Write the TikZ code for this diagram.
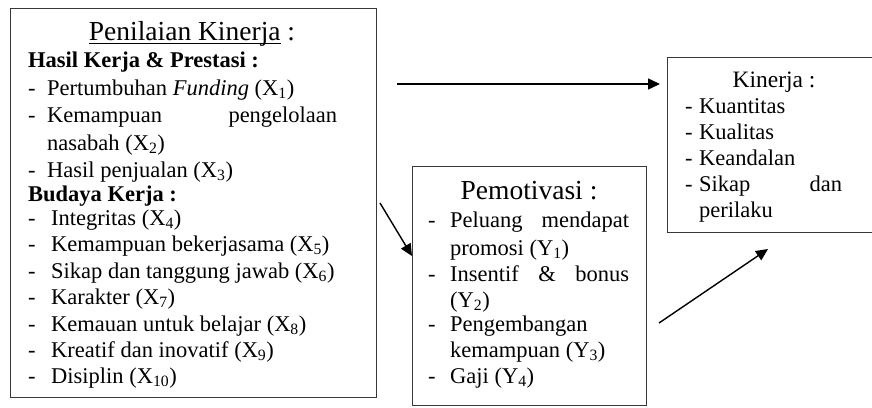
\documentclass[tikz,border=0pt]{standalone}
\usepackage{fontspec}
\setmainfont{Liberation Serif}
\usetikzlibrary{arrows.meta}
\newcommand\bodysz{\fontsize{22.5}{26}\selectfont}
\newcommand\titlesz{\fontsize{27.5}{30}\selectfont}
\newcommand\kintitlesz{\fontsize{23.5}{27}\selectfont}
\newsavebox\myulbox
\newcommand\myul[1]{\sbox\myulbox{#1}\rlap{\rule[-3.5pt]{\wd\myulbox}{0.9pt}}\usebox\myulbox}
\tikzset{
  box/.style={draw=black!78, line width=1.2pt, anchor=north west, inner sep=0, fill=none},
  txt/.style={anchor=base west, inner sep=0, font=\bodysz},
  ttl/.style={anchor=base, inner sep=0, font=\titlesz},
  arr/.style={-{Triangle[length=12pt,width=11pt]}, line width=1.4pt}
}
\begin{document}
\begin{tikzpicture}[x=1pt,y=-1pt]
\useasboundingbox (0,0) rectangle (872,407);
% boxes
\node[box, minimum width=366pt, minimum height=389pt] (pk) at (10,8) {};
\node[box, minimum width=234pt, minimum height=239pt] (pm) at (412,166) {};
\node[box, minimum width=215pt, minimum height=175pt] (kn) at (667,57) {};
% left box
\node[ttl] (t1) at (192,40) {\myul{Penilaian Kinerja} :};
\node[txt] (h1) at (28,67) {\textbf{Hasil Kerja \& Prestasi :}};
\node[txt] (d1) at (28,95) {-};
\node[txt] (l1) at (47,95) {Pertumbuhan \textit{Funding} (X\textsubscript{1})};
\node[txt] (d2) at (28,122) {-};
\node[txt] (l2) at (47,122) {\makebox[290pt][s]{Kemampuan pengelolaan}};
\node[txt] (l2b) at (47,150) {nasabah (X\textsubscript{2})};
\node[txt] (d3) at (28,177) {-};
\node[txt] (l3) at (47,177) {Hasil penjualan (X\textsubscript{3})};
\node[txt] (h2) at (28,201) {\textbf{Budaya Kerja :}};
\foreach \y/\t [count=\i] in {225/Integritas (X\textsubscript{4}),
  251/Kemampuan bekerjasama (X\textsubscript{5}),
  278/Sikap dan tanggung jawab (X\textsubscript{6}),
  304/Karakter (X\textsubscript{7}),
  331/Kemauan untuk belajar (X\textsubscript{8}),
  357/Kreatif dan inovatif (X\textsubscript{9}),
  383/Disiplin (X\textsubscript{10})}{
  \node[txt] (bd\i) at (28,\y) {-};
  \node[txt] (b\i) at (51,\y) {\t};
}
% middle box
\node[ttl] (t2) at (529,199) {Pemotivasi :};
\node[txt] (m1d) at (428,227) {-};
\node[txt] (m1) at (450,227) {\makebox[179pt][s]{Peluang mendapat}};
\node[txt] (m1b) at (450,255) {promosi (Y\textsubscript{1})};
\node[txt] (m2d) at (428,281) {-};
\node[txt] (m2) at (450,281) {\makebox[179pt][s]{Insentif \& bonus}};
\node[txt] (m2b) at (450,307) {(Y\textsubscript{2})};
\node[txt] (m3d) at (428,331) {-};
\node[txt] (m3) at (450,331) {Pengembangan};
\node[txt] (m3b) at (450,357) {kemampuan (Y\textsubscript{3})};
\node[txt] (m4d) at (428,383) {-};
\node[txt] (m4) at (450,383) {Gaji (Y\textsubscript{4})};
% right box
\node[ttl, font=\kintitlesz] (t3) at (774,87) {Kinerja :};
\node[txt] (k1d) at (685,113) {-};
\node[txt] (k1) at (699,113) {Kuantitas};
\node[txt] (k2d) at (685,139) {-};
\node[txt] (k2) at (699,139) {Kualitas};
\node[txt] (k3d) at (685,165) {-};
\node[txt] (k3) at (699,165) {Keandalan};
\node[txt] (k4d) at (685,191) {-};
\node[txt] (k4) at (699,191) {\makebox[143pt][s]{Sikap dan}};
\node[txt] (k4b) at (699,217) {perilaku};
% arrows
\coordinate (a1s) at (397,84);
\coordinate (a1e) at (660,84);
\coordinate (a2s) at (380,203);
\coordinate (a2e) at (412,256);
\coordinate (a3s) at (659,323);
\coordinate (a3e) at (768,249);
\draw[arr] (a1s) -- (a1e);
\draw[arr] (a2s) -- (a2e);
\draw[arr] (a3s) -- (a3e);
\end{tikzpicture}
\end{document}
